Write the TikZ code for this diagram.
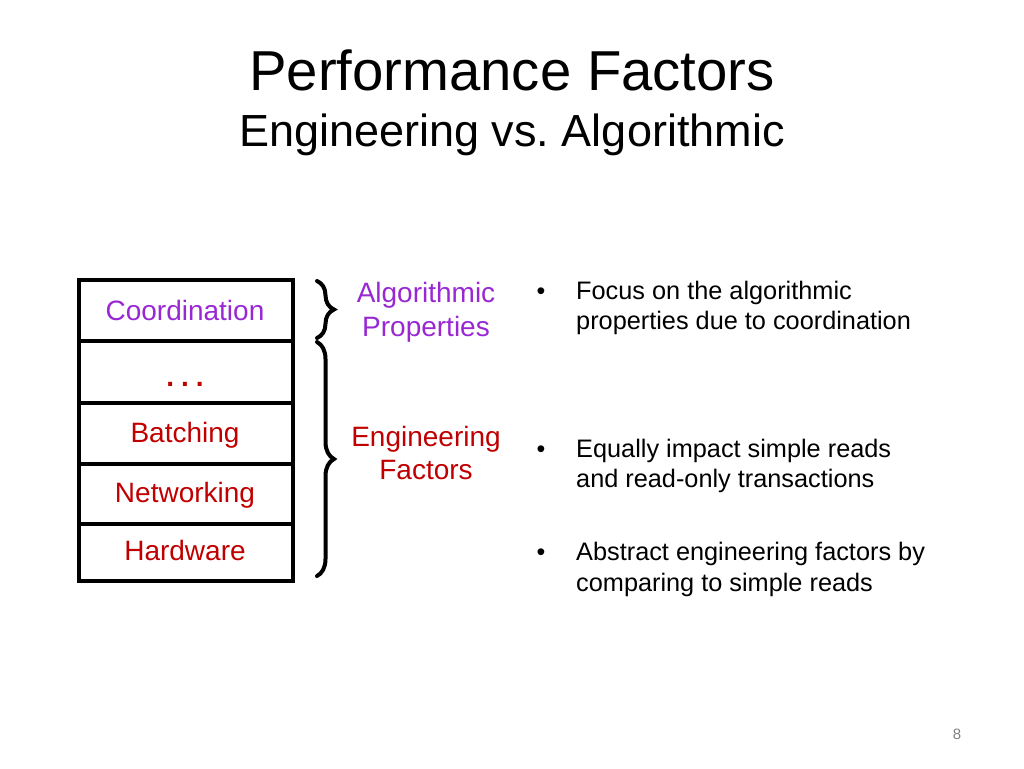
\documentclass[tikz,border=0pt]{standalone}
\usepackage{fontspec}
\setmainfont{Liberation Sans}
\frenchspacing
\usetikzlibrary{decorations.pathreplacing}
\definecolor{algpurple}{RGB}{153,40,210}
\definecolor{engred}{RGB}{192,0,0}
\definecolor{pagegray}{RGB}{128,128,128}
\tikzset{
  layerbox/.style={draw=black, line width=3.5pt, minimum width=214pt, anchor=north west, inner sep=0pt},
  layertext/.style={anchor=base, font=\fontsize{28}{33}\selectfont, inner sep=0pt},
  grouptext/.style={anchor=base, font=\fontsize{28}{33}\selectfont, inner sep=0pt, align=center},
  bullettext/.style={anchor=base west, font=\fontsize{25.3}{30}\selectfont, inner sep=0pt, align=left},
  bulletmark/.style={anchor=base, font=\fontsize{25}{30}\selectfont, inner sep=0pt},
  curlybrace/.style={decorate, decoration={brace, amplitude=17pt}, line width=4pt, line cap=round},
}
\begin{document}
\begin{tikzpicture}[x=1pt,y=-1pt]
\useasboundingbox (0,0) rectangle (1024,768);
% title
\node[anchor=base, font=\fontsize{56.3}{60}\selectfont, inner sep=0pt] (title) at (512,90) {Performance Factors};
\node[anchor=base, font=\fontsize{45}{50}\selectfont, inner sep=0pt] (subtitle) at (512,146) {Engineering vs. Algorithmic};
% layer boxes
\node[layerbox, minimum height=61pt] (b1) at (77,278) {};
\node[layerbox, minimum height=62pt] (b2) at (77,339) {};
\node[layerbox, minimum height=61pt] (b3) at (77,401) {};
\node[layerbox, minimum height=60pt] (b4) at (77,462) {};
\node[layerbox, minimum height=57pt] (b5) at (77,522) {};
\node[layertext, text=algpurple] (t1) at (185,320) {Coordination};
\node[layertext, text=engred] (t2) at (185,386) {\textbf{.\hspace{7pt}.\hspace{7pt}.}};
\node[layertext, text=engred] (t3) at (185,442) {Batching};
\node[layertext, text=engred] (t4) at (185,502) {Networking};
\node[layertext, text=engred] (t5) at (185,560) {Hardware};
% braces
\coordinate (br1top) at (317,281);
\coordinate (br1bot) at (317,338);
\coordinate (br2top) at (317,342);
\coordinate (br2bot) at (317,576);
\draw[curlybrace] (br1top) -- (br1bot);
\draw[curlybrace] (br2top) -- (br2bot);
% group labels
\node[grouptext, text=algpurple] (g1a) at (426,302) {Algorithmic};
\node[grouptext, text=algpurple] (g1b) at (426,336) {Properties};
\node[grouptext, text=engred] (g2a) at (426,446) {Engineering};
\node[grouptext, text=engred] (g2b) at (426,479) {Factors};
% bullets
\node[bulletmark] (m1) at (541,299) {•};
\node[bullettext] (p1a) at (576,299) {Focus on the algorithmic};
\node[bullettext] (p1b) at (576,329) {properties due to coordination};
\node[bulletmark] (m2) at (541,457) {•};
\node[bullettext] (p2a) at (576,457) {Equally impact simple reads};
\node[bullettext] (p2b) at (576,487) {and read-only transactions};
\node[bulletmark] (m3) at (541,560) {•};
\node[bullettext] (p3a) at (576,560) {Abstract engineering factors by};
\node[bullettext] (p3b) at (576,591) {comparing to simple reads};
% page number
\node[anchor=base, font=\fontsize{15}{18}\selectfont, text=pagegray, inner sep=0pt] (pg) at (957,739) {8};
\end{tikzpicture}
\end{document}
